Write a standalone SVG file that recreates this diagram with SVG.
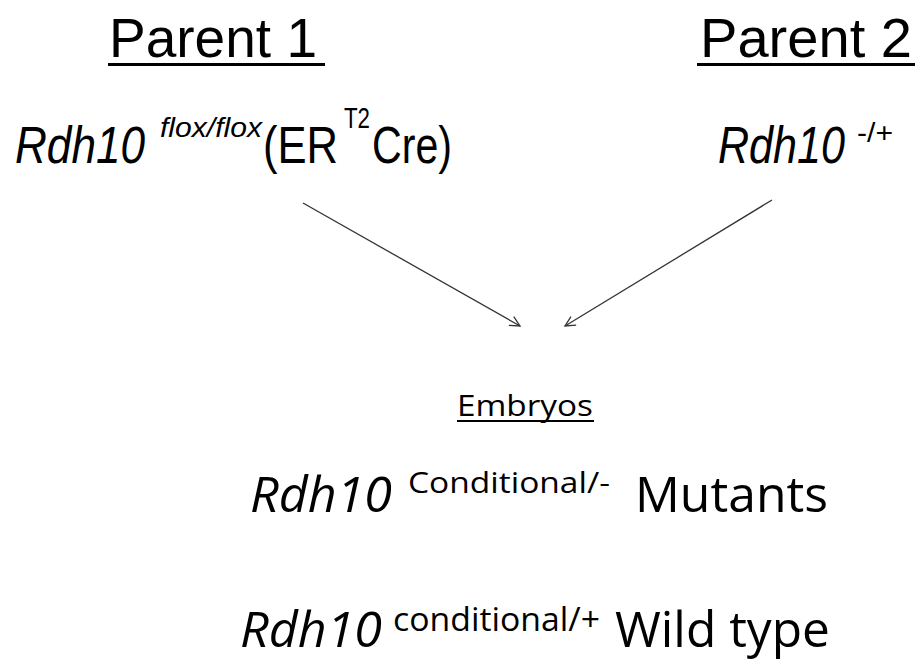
<svg xmlns="http://www.w3.org/2000/svg" width="919" height="660" viewBox="0 0 919 660">
<style>
.a{font-family:"Liberation Sans",Arial,sans-serif;fill:#000}
.c{font-family:"Open Sans","Noto Sans",sans-serif;fill:#000}
.i{font-style:italic}
.ul{fill:#000}
.ln{stroke:#333;stroke-width:1.3;fill:none}
</style>
<defs>
<marker id="ah" markerUnits="userSpaceOnUse" markerWidth="14" markerHeight="14" refX="11" refY="6" orient="auto" viewBox="0 0 14 12">
<path d="M1,1 L11,6 L1,11" fill="none" stroke="#333" stroke-width="1.3"/>
</marker>
</defs>
<rect width="919" height="660" fill="#fff"/>
<g id="parent1">
<text class="a" x="109" y="57" font-size="55" textLength="208" lengthAdjust="spacingAndGlyphs">Parent 1</text>
<rect class="ul" x="108" y="63" width="217" height="3"/>
</g>
<g id="parent2">
<text class="a" x="700" y="57" font-size="55" textLength="212" lengthAdjust="spacingAndGlyphs">Parent 2</text>
<rect class="ul" x="697" y="63" width="218" height="3"/>
</g>
<g id="genotype1">
<text class="a i" x="15" y="163" font-size="52" textLength="130" lengthAdjust="spacingAndGlyphs">Rdh10</text>
<text class="a i" x="160" y="137" font-size="28" textLength="102" lengthAdjust="spacingAndGlyphs">flox/flox</text>
<text class="a" x="263" y="163" font-size="52" textLength="75" lengthAdjust="spacingAndGlyphs">(ER</text>
<text class="a" x="344" y="128" font-size="29" textLength="26" lengthAdjust="spacingAndGlyphs">T2</text>
<text class="a" x="372" y="163" font-size="52" textLength="80" lengthAdjust="spacingAndGlyphs">Cre)</text>
</g>
<g id="genotype2">
<text class="a i" x="718" y="163" font-size="52" textLength="127" lengthAdjust="spacingAndGlyphs">Rdh10</text>
<text class="a" x="857" y="142" font-size="28" textLength="36" lengthAdjust="spacingAndGlyphs">-/+</text>
</g>
<g id="connectors">
<line class="ln" x1="303" y1="203" x2="520" y2="326" marker-end="url(#ah)"/>
<line class="ln" x1="772" y1="200" x2="565" y2="326" marker-end="url(#ah)"/>
</g>
<g id="embryos">
<text class="c" x="457" y="416" font-size="29" textLength="136" lengthAdjust="spacingAndGlyphs">Embryos</text>
<rect class="ul" x="457" y="420" width="137" height="2"/>
</g>
<g id="mutants">
<text class="c i" x="250" y="512" font-size="50" textLength="142" lengthAdjust="spacingAndGlyphs">Rdh10</text>
<text class="c" x="408" y="493" font-size="30" textLength="202" lengthAdjust="spacingAndGlyphs">Conditional/-</text>
<text class="c" x="635" y="512" font-size="49" textLength="193" lengthAdjust="spacingAndGlyphs">Mutants</text>
</g>
<g id="wildtype">
<text class="c i" x="240" y="647" font-size="49" textLength="142" lengthAdjust="spacingAndGlyphs">Rdh10</text>
<text class="c" x="393" y="631" font-size="32" textLength="207" lengthAdjust="spacingAndGlyphs">conditional/+</text>
<text class="c" x="615" y="647" font-size="49" textLength="215" lengthAdjust="spacingAndGlyphs">Wild type</text>
</g>
</svg>
